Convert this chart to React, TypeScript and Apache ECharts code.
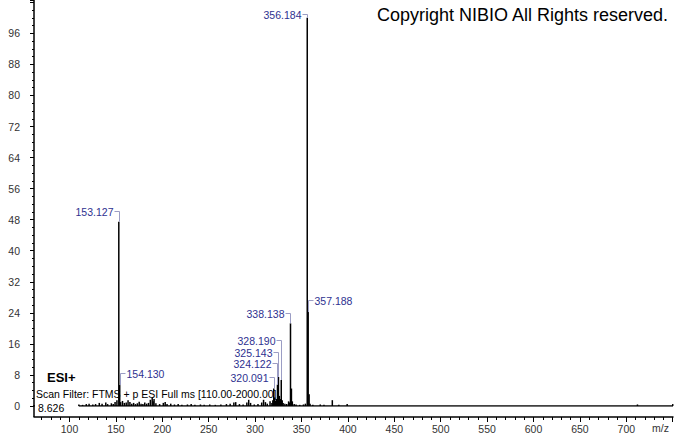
import React, { useEffect, useRef } from "react";
import * as echarts from "echarts";

// ---- data ----
const spectrumMz = [
  110.1, 114.1, 118.1, 121.1, 125.1, 128.1, 132.1, 135.1, 139.1, 141.1, 145.1, 147.1, 149.1, 151.1,
  153.127, 154.13, 155.1, 157.1, 159.1, 161.1, 163.1, 165.1, 167.1, 169.1, 171.1, 173.1, 175.1, 177.1,
  179.1, 181.1, 183.1, 185.1, 187.1, 189.1, 190.1, 191.1, 193.1, 197.1, 201.1, 203.1, 205.1, 209.1,
  213.1, 217.1, 221.1, 227.1, 231.1, 235.1, 241.1, 245.1, 251.1, 257.1, 263.1, 269.1, 273.1, 277.1,
  279.1, 283.1, 287.1, 291.1, 293.1, 295.1, 299.1, 303.1, 307.1, 309.1, 311.1, 313.1, 316.1, 318.1,
  319.1, 320.091, 321.1, 322.1, 323.1, 324.122, 325.143, 326.1, 327.1, 328.19, 329.2, 330.2, 332.1,
  334.1, 336.1, 337.1, 338.138, 339.14, 340.1, 342.1, 344.1, 348.1, 352.1, 354.2, 356.184, 357.188,
  358.19, 359.2, 362.2, 370.2, 374.2, 383.2, 390.2, 399.2, 712, 750,
];
const spectrumIntensity = [
  0.4, 0.3, 0.5, 0.6, 0.4, 0.5, 0.8, 0.6, 0.9, 0.5, 0.7, 0.5, 1.0, 1.5,
  47.5, 5.4, 1.0, 1.3, 0.8, 0.9, 1.5, 1.0, 0.6, 0.8, 0.5, 0.7, 1.1, 0.6,
  0.5, 0.9, 0.6, 0.8, 1.6, 2.1, 1.2, 1.8, 0.7, 0.5, 0.8, 1.0, 0.5, 0.6,
  0.4, 0.5, 0.3, 0.4, 0.5, 0.3, 0.4, 0.3, 0.4, 0.3, 0.4, 0.5, 0.6, 0.9,
  1.0, 0.5, 0.4, 0.9, 1.6, 0.8, 0.4, 0.5, 0.9, 1.6, 1.0, 0.6, 1.2, 0.8,
  1.5, 4.5, 2.2, 1.3, 1.8, 5.5, 7.5, 2.6, 1.8, 6.7, 1.5, 0.8, 0.6,
  0.5, 1.2, 0.9, 21.3, 4.5, 1.2, 0.5, 0.4, 0.3, 0.4, 0.6, 100, 24.2,
  3.0, 0.6, 0.3, 0.4, 0.3, 1.5, 0.3, 0.5, 0.4, 0.5,
];
const peakLabels = ["153.127", "154.130", "320.091", "324.122", "325.143", "328.190", "338.138", "356.184", "357.188"];
const peakLabelMz = [153.127, 154.13, 320.091, 324.122, 325.143, 328.19, 338.138, 356.184, 357.188];
const peakLabelIntensity = [47.5, 5.4, 4.5, 5.5, 7.5, 6.7, 21.3, 100, 24.2];
const baselineRange = [110, 750.3];
const yTickLabels = [0, 8, 16, 24, 32, 40, 48, 56, 64, 72, 80, 88, 96];
const xTickLabels = [100, 150, 200, 250, 300, 350, 400, 450, 500, 550, 600, 650, 700];

// ---- layout / style ----
const labelSide = ["L", "R", "L", "L", "L", "L", "L", "L", "R"];
const labelLift = [11, 12, 11.5, 21.4, 25, 40, 10.6, 4, 12];
const X_MIN = 61.75;
const X_MAX = 750.3;
const Y_MAX = 104.6;
const FONT = '"Liberation Sans", Arial, sans-serif';
const LABEL_COLOR = "#2e3190";
const BRACKET_COLOR = "#9b9dc4";

const majorTicks: number[] = [];
for (let v = 100; v <= 750; v += 50) majorTicks.push(v);
const minorTicks: number[] = [];
for (let v = 70; v <= 750; v += 10) if (v % 50 !== 0) minorTicks.push(v);

function buildOption() {
  const peaks = spectrumMz.map((m, i) => [m, spectrumIntensity[i]]);
  const ann = peakLabelMz.map((m, i) => [m, peakLabelIntensity[i], i]);
  return {
    animation: false,
    backgroundColor: "#ffffff",
    grid: { left: 34, right: 1, top: 0, bottom: 28, containLabel: false },
    xAxis: [
      {
        type: "value",
        position: "bottom",
        offset: 11,
        min: X_MIN,
        max: X_MAX,
        axisLine: { show: true, onZero: false, lineStyle: { color: "#000", width: 1.5 } },
        axisTick: { show: true, customValues: majorTicks, length: 5, lineStyle: { color: "#000" } },
        axisLabel: {
          show: true,
          customValues: xTickLabels,
          fontSize: 10.5,
          fontFamily: FONT,
          color: "#333",
          margin: 6,
        },
        splitLine: { show: false },
      },
      {
        type: "value",
        position: "bottom",
        offset: 11,
        min: X_MIN,
        max: X_MAX,
        axisLine: { show: false, onZero: false },
        axisTick: { show: true, customValues: minorTicks, length: 3, lineStyle: { color: "#000" } },
        axisLabel: { show: false },
        splitLine: { show: false },
      },
    ],
    yAxis: {
      type: "value",
      min: 0,
      max: Y_MAX,
      interval: 8,
      axisLine: { show: true, lineStyle: { color: "#000", width: 1.5 } },
      axisTick: { show: true, length: 4, lineStyle: { color: "#000" } },
      minorTick: { show: true, splitNumber: 4, length: 2, lineStyle: { color: "#000" } },
      axisLabel: {
        formatter: (v: number) => (yTickLabels.indexOf(v) >= 0 ? String(v) : ""),
        fontSize: 10.5,
        fontFamily: FONT,
        color: "#333",
        margin: 14,
      },
      splitLine: { show: false },
    },
    graphic: [
      { type: "line", shape: { x1: 34, y1: 405, x2: 34, y2: 417 }, style: { stroke: "#000", lineWidth: 1.5 } },
      {
        type: "text",
        x: 377,
        y: 15,
        style: { text: "Copyright NIBIO All Rights reserved.", font: `18px ${FONT}`, fill: "#000", verticalAlign: "middle", textVerticalAlign: "middle" },
      },
      {
        type: "text",
        x: 47,
        y: 377,
        style: { text: "ESI+", font: `bold 13px ${FONT}`, fill: "#000", verticalAlign: "middle", textVerticalAlign: "middle" },
      },
      {
        type: "text",
        x: 36,
        y: 394,
        z: 10,
        style: { text: "Scan Filter: FTMS + p ESI Full ms [110.00-2000.00]", font: `10.5px ${FONT}`, fill: "#000", verticalAlign: "middle", textVerticalAlign: "middle" },
      },
      {
        type: "text",
        x: 38,
        y: 408,
        style: { text: "8.626", font: `10.5px ${FONT}`, fill: "#000", verticalAlign: "middle", textVerticalAlign: "middle" },
      },
      {
        type: "text",
        x: 652,
        y: 428,
        style: { text: "m/z", font: `10.5px ${FONT}`, fill: "#333", verticalAlign: "middle", textVerticalAlign: "middle" },
      },
    ],
    series: [
      {
        type: "line",
        xAxisIndex: 0,
        data: [[baselineRange[0], 0], [baselineRange[1], 0]],
        symbol: "none",
        lineStyle: { color: "#000", width: 1.5 },
        silent: true,
      },
      {
        type: "custom",
        xAxisIndex: 0,
        data: peaks,
        renderItem: (params: any, api: any) => {
          const top = api.coord([api.value(0), api.value(1)]);
          const base = api.coord([api.value(0), 0]);
          return {
            type: "line",
            shape: { x1: top[0], y1: top[1], x2: base[0], y2: base[1] },
            style: { stroke: "#000", lineWidth: 1.5 },
          };
        },
        silent: true,
      },
      {
        type: "custom",
        xAxisIndex: 0,
        data: ann,
        renderItem: (params: any, api: any) => {
          const i = api.value(2);
          const top = api.coord([api.value(0), api.value(1)]);
          const px = Math.round(top[0]) + 0.5;
          const ty = Math.round(top[1] - labelLift[i]) + 0.5;
          const left = labelSide[i] === "L";
          const pts = left
            ? [[px - 5, ty], [px, ty], [px, top[1]]]
            : [[px + 5, ty], [px, ty], [px, top[1]]];
          const align = left ? "right" : "left";
          return {
            type: "group",
            children: [
              { type: "polyline", shape: { points: pts }, style: { stroke: BRACKET_COLOR, lineWidth: 1, fill: null } },
              {
                type: "text",
                x: left ? px - 6 : px + 6,
                y: ty,
                style: {
                  text: peakLabels[i],
                  fill: LABEL_COLOR,
                  font: `10.5px ${FONT}`,
                  align,
                  textAlign: align,
                  verticalAlign: "middle",
                  textVerticalAlign: "middle",
                },
              },
            ],
          };
        },
        silent: true,
      },
    ],
  };
}

export default function App() {
  const ref = useRef<HTMLDivElement>(null);
  useEffect(() => {
    if (!ref.current) return;
    const chart = echarts.init(ref.current, null, { renderer: "svg" });
    chart.setOption(buildOption() as any);
    return () => chart.dispose();
  }, []);
  return <div ref={ref} style={{ position: "absolute", left: 0, top: 0, width: 674, height: 434 }} />;
}
